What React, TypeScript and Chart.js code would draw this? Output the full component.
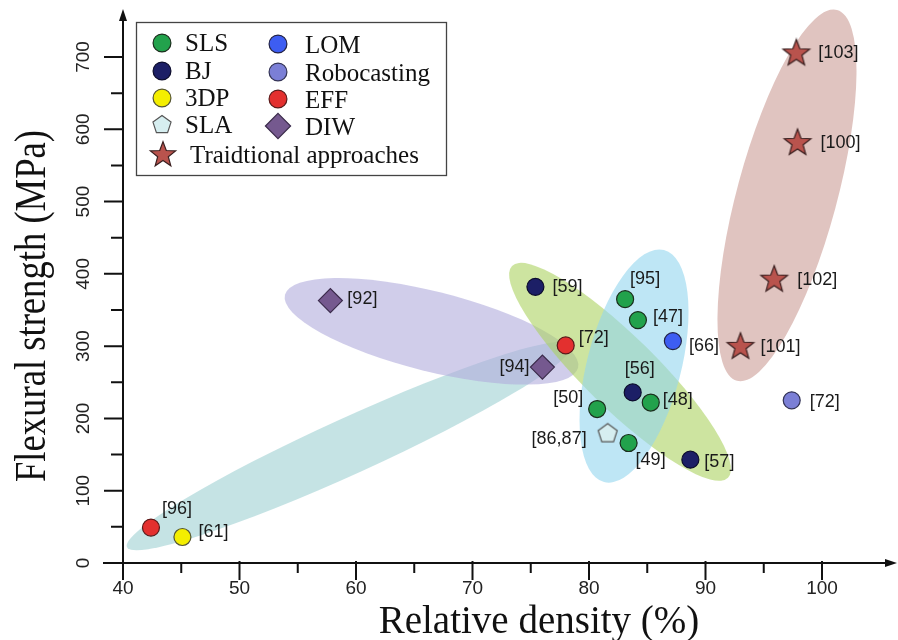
import React, { useEffect, useRef } from 'react';
import { Chart, registerables } from 'chart.js';
Chart.register(...registerables);

// ---------- data ----------
const SLS_X = [83.1, 84.2, 85.3, 80.7, 83.4];
const SLS_Y = [365, 336, 222, 213, 166];
const SLS_REF = ['[95]', '[47]', '[48]', '[50]', '[49]'];

const BJ_X = [75.4, 83.75, 88.7];
const BJ_Y = [382, 236, 143];
const BJ_REF = ['[59]', '[56]', '[57]'];

const P3DP_X = [45.1];
const P3DP_Y = [36];
const P3DP_REF = ['[61]'];

const SLA_X = [81.6];
const SLA_Y = [179];
const SLA_REF = ['[86,87]'];

const LOM_X = [87.2];
const LOM_Y = [307];
const LOM_REF = ['[66]'];

const ROBO_X = [97.4];
const ROBO_Y = [225];
const ROBO_REF = ['[72]'];

const EFF_X = [78.0, 42.4];
const EFF_Y = [301, 49];
const EFF_REF = ['[72]', '[96]'];

const DIW_X = [57.8, 76.0];
const DIW_Y = [363, 271];
const DIW_REF = ['[92]', '[94]'];

const TRAD_X = [97.8, 97.9, 95.9, 93.0];
const TRAD_Y = [705, 581, 392, 299];
const TRAD_REF = ['[103]', '[100]', '[102]', '[101]'];

const X_TICKS = [40, 50, 60, 70, 80, 90, 100];
const X_MINOR = [45, 55, 65, 75, 85, 95];
const Y_TICKS = [0, 100, 200, 300, 400, 500, 600, 700];
const Y_MINOR = [50, 150, 250, 350, 450, 550, 650];

const X_TITLE = 'Relative density (%)';
const Y_TITLE = 'Flexural strength (MPa)';

const LEGEND_LEFT = ['SLS', 'BJ', '3DP', 'SLA'];
const LEGEND_RIGHT = ['LOM', 'Robocasting', 'EFF', 'DIW'];
const LEGEND_BOTTOM = 'Traidtional approaches';

// cluster ellipses: major-axis end points in data units
const ELL_TEAL = [40.34, 22, 78.54, 302];
const ELL_PURPLE = [53.9, 371, 79.06, 270];
const ELL_GREEN = [73.39, 411, 91.93, 118];
const ELL_BLUE = [86.44, 433, 81.29, 112];
const ELL_PINK = [101.29, 765, 92.7, 252];

// ---------- styles ----------
type Kind = 'circle' | 'diamond' | 'star' | 'pentagon';
const STYLES: Record<string, { fill: string; stroke: string; kind: Kind; r: number }> = {
  SLS: { fill: '#22a24c', stroke: '#1b2e1d', kind: 'circle', r: 8.5 },
  BJ: { fill: '#1c1f66', stroke: '#0c0c2c', kind: 'circle', r: 8.5 },
  '3DP': { fill: '#f4ee00', stroke: '#555533', kind: 'circle', r: 8.5 },
  SLA: { fill: '#d6eef0', stroke: '#555', kind: 'pentagon', r: 10 },
  LOM: { fill: '#3d5df2', stroke: '#222244', kind: 'circle', r: 8.5 },
  Robocasting: { fill: '#7b7fd6', stroke: '#333355', kind: 'circle', r: 8.5 },
  EFF: { fill: '#e3302f', stroke: '#5a1a1a', kind: 'circle', r: 8.5 },
  DIW: { fill: '#75598f', stroke: '#3a2a4a', kind: 'diamond', r: 12 },
  'Traidtional approaches': { fill: '#b9534d', stroke: '#3a1f1f', kind: 'star', r: 14 },
};

const ELL_STYLES: [number[], string, number][] = [
  [ELL_TEAL, 'rgba(158,208,210,0.6)', 28],
  [ELL_PURPLE, 'rgba(177,172,220,0.6)', 40],
  [ELL_GREEN, 'rgba(172,210,97,0.6)', 36],
  [ELL_BLUE, 'rgba(147,213,238,0.6)', 47],
  [ELL_PINK, 'rgba(203,157,150,0.6)', 50],
];

// label placement: [dx, dy, align] relative to point
const LABEL_PLACE: Record<string, [number, number, CanvasTextAlign]> = {
  'SLS:0': [20, -20, 'center'],
  'SLS:1': [15, -3, 'left'],
  'SLS:2': [12, -2, 'left'],
  'SLS:3': [-14, -11, 'right'],
  'SLS:4': [7, 17, 'left'],
  'BJ:0': [17, 0, 'left'],
  'BJ:1': [7, -23, 'center'],
  'BJ:2': [14, 2, 'left'],
  '3DP:0': [16, -5, 'left'],
  'SLA:0': [-21, 5, 'right'],
  'LOM:0': [16, 5, 'left'],
  'Robocasting:0': [18, 2, 'left'],
  'EFF:0': [13, -7, 'left'],
  'EFF:1': [11, -19, 'left'],
  'DIW:0': [17, -2, 'left'],
  'DIW:1': [-13, 0, 'right'],
  'Traidtional approaches:0': [22, 0, 'left'],
  'Traidtional approaches:1': [23, 0, 'left'],
  'Traidtional approaches:2': [23, 0, 'left'],
  'Traidtional approaches:3': [20, 0, 'left'],
};

function shapePath(ctx: CanvasRenderingContext2D, kind: Kind, cx: number, cy: number, R: number) {
  ctx.beginPath();
  if (kind === 'circle') {
    ctx.arc(cx, cy, R, 0, Math.PI * 2);
  } else if (kind === 'diamond') {
    ctx.moveTo(cx, cy - R);
    ctx.lineTo(cx + R, cy);
    ctx.lineTo(cx, cy + R);
    ctx.lineTo(cx - R, cy);
    ctx.closePath();
  } else if (kind === 'star') {
    for (let i = 0; i < 10; i++) {
      const a = -Math.PI / 2 + (i * Math.PI) / 5;
      const rr = i % 2 === 0 ? R : R * 0.42;
      const px = cx + rr * Math.cos(a);
      const py = cy + rr * Math.sin(a);
      if (i === 0) ctx.moveTo(px, py);
      else ctx.lineTo(px, py);
    }
    ctx.closePath();
  } else {
    for (let i = 0; i < 5; i++) {
      const a = -Math.PI / 2 + (i * 2 * Math.PI) / 5;
      const px = cx + R * Math.cos(a);
      const py = cy + R * Math.sin(a);
      if (i === 0) ctx.moveTo(px, py);
      else ctx.lineTo(px, py);
    }
    ctx.closePath();
  }
}

function drawMarker(ctx: CanvasRenderingContext2D, name: string, cx: number, cy: number, scale = 1) {
  const s = STYLES[name];
  shapePath(ctx, s.kind, cx, cy, s.r * scale);
  ctx.fillStyle = s.fill;
  ctx.fill();
  ctx.lineWidth = 1.2;
  ctx.strokeStyle = s.stroke;
  ctx.stroke();
}

function markerImage(name: string): HTMLCanvasElement {
  const s = STYLES[name];
  const size = Math.ceil(2 * s.r + 4);
  const c = document.createElement('canvas');
  c.width = size;
  c.height = size;
  const ctx = c.getContext('2d')!;
  drawMarker(ctx, name, size / 2, size / 2);
  return c;
}

const SERIES: [string, number[], number[], string[]][] = [
  ['SLS', SLS_X, SLS_Y, SLS_REF],
  ['BJ', BJ_X, BJ_Y, BJ_REF],
  ['3DP', P3DP_X, P3DP_Y, P3DP_REF],
  ['SLA', SLA_X, SLA_Y, SLA_REF],
  ['LOM', LOM_X, LOM_Y, LOM_REF],
  ['Robocasting', ROBO_X, ROBO_Y, ROBO_REF],
  ['EFF', EFF_X, EFF_Y, EFF_REF],
  ['DIW', DIW_X, DIW_Y, DIW_REF],
  ['Traidtional approaches', TRAD_X, TRAD_Y, TRAD_REF],
];

export default function App() {
  const ref = useRef<HTMLCanvasElement | null>(null);

  useEffect(() => {
    document.body.style.margin = '0';
    const canvas = ref.current!;

    const datasets = SERIES.map(([name, xs, ys]) => {
      const s = STYLES[name];
      const base: any = {
        label: name,
        data: xs.map((x, i) => ({ x, y: ys[i] })),
        clip: false,
        borderWidth: 1.2,
        backgroundColor: s.fill,
        borderColor: s.stroke,
      };
      if (s.kind === 'circle') {
        base.pointStyle = 'circle';
        base.pointRadius = s.r;
      } else if (s.kind === 'diamond') {
        base.pointStyle = 'rectRot';
        base.pointRadius = s.r;
      } else {
        base.pointStyle = markerImage(name);
        base.pointRadius = s.r;
      }
      return base;
    });

    const ellipsePlugin = {
      id: 'ellipses',
      beforeDatasetsDraw(chart: any) {
        const ctx = chart.ctx as CanvasRenderingContext2D;
        const xs = chart.scales.x;
        const ys = chart.scales.y;
        ctx.save();
        for (const [e, color, b] of ELL_STYLES) {
          const x1 = xs.getPixelForValue(e[0]);
          const y1 = ys.getPixelForValue(e[1]);
          const x2 = xs.getPixelForValue(e[2]);
          const y2 = ys.getPixelForValue(e[3]);
          const cx = (x1 + x2) / 2;
          const cy = (y1 + y2) / 2;
          const a = Math.hypot(x2 - x1, y2 - y1) / 2;
          const ang = Math.atan2(y2 - y1, x2 - x1);
          ctx.beginPath();
          ctx.ellipse(cx, cy, a, b, ang, 0, Math.PI * 2);
          ctx.fillStyle = color;
          ctx.fill();
        }
        ctx.restore();

        // axes
        const ox = xs.getPixelForValue(40);
        const oy = ys.getPixelForValue(0);
        ctx.save();
        ctx.strokeStyle = '#111';
        ctx.fillStyle = '#111';
        ctx.lineWidth = 2;
        ctx.beginPath();
        ctx.moveTo(ox, oy + 13);
        ctx.lineTo(ox, 16);
        ctx.moveTo(ox - 20, oy);
        ctx.lineTo(891, oy);
        ctx.stroke();
        // arrow heads
        ctx.beginPath();
        ctx.moveTo(ox, 9);
        ctx.lineTo(ox - 4, 21);
        ctx.lineTo(ox + 4, 21);
        ctx.closePath();
        ctx.fill();
        ctx.beginPath();
        ctx.moveTo(897, oy);
        ctx.lineTo(885, oy - 4);
        ctx.lineTo(885, oy + 4);
        ctx.closePath();
        ctx.fill();
        // ticks
        ctx.lineWidth = 2;
        ctx.beginPath();
        for (const v of Y_TICKS) {
          const py = ys.getPixelForValue(v);
          if (v !== 0) {
            ctx.moveTo(ox - 19, py);
            ctx.lineTo(ox, py);
          }
        }
        for (const v of Y_MINOR) {
          const py = ys.getPixelForValue(v);
          ctx.moveTo(ox - 12, py);
          ctx.lineTo(ox, py);
        }
        for (const v of X_TICKS) {
          const px = xs.getPixelForValue(v);
          ctx.moveTo(px, oy - 2);
          ctx.lineTo(px, oy + 17);
        }
        for (const v of X_MINOR) {
          const px = xs.getPixelForValue(v);
          ctx.moveTo(px, oy);
          ctx.lineTo(px, oy + 10);
        }
        ctx.stroke();
        // tick labels
        ctx.font = '19px "Liberation Sans", Arial, sans-serif';
        ctx.fillStyle = '#222';
        ctx.textAlign = 'center';
        ctx.textBaseline = 'middle';
        for (const v of X_TICKS) {
          ctx.fillText(String(v), xs.getPixelForValue(v), oy + 26);
        }
        for (const v of Y_TICKS) {
          const py = ys.getPixelForValue(v);
          ctx.save();
          ctx.translate(ox - 34, py);
          ctx.rotate(-Math.PI / 2);
          ctx.textBaseline = 'alphabetic';
          ctx.fillText(String(v), 0, 0);
          ctx.restore();
        }
        // titles
        ctx.fillStyle = '#111';
        ctx.font = '39px "Liberation Serif", "Times New Roman", serif';
        ctx.textAlign = 'center';
        ctx.textBaseline = 'alphabetic';
        ctx.fillText(X_TITLE, 539, 633, 328);
        ctx.save();
        ctx.translate(45, 306);
        ctx.rotate(-Math.PI / 2);
        ctx.font = '44px "Liberation Serif", "Times New Roman", serif';
        ctx.fillText(Y_TITLE, 0, 0, 352);
        ctx.restore();
        ctx.restore();
      },
      afterDatasetsDraw(chart: any) {
        const ctx = chart.ctx as CanvasRenderingContext2D;
        const xs = chart.scales.x;
        const ys = chart.scales.y;
        ctx.save();
        ctx.font = '18px "Liberation Sans", Arial, sans-serif';
        ctx.fillStyle = '#1a1a1a';
        ctx.textBaseline = 'middle';
        SERIES.forEach(([name, xArr, yArr, refs]) => {
          refs.forEach((t, i) => {
            const p = LABEL_PLACE[name + ':' + i] || [14, 0, 'left'];
            const px = xs.getPixelForValue(xArr[i]);
            const py = ys.getPixelForValue(yArr[i]);
            ctx.textAlign = p[2];
            ctx.fillText(t, px + p[0], py + p[1]);
          });
        });
        ctx.restore();

        // legend
        ctx.save();
        ctx.fillStyle = '#fff';
        ctx.fillRect(136.5, 22.5, 310, 153);
        ctx.strokeStyle = '#444';
        ctx.lineWidth = 1.3;
        ctx.strokeRect(136.5, 22.5, 310, 153);
        ctx.font = '25px "Liberation Serif", "Times New Roman", serif';
        ctx.fillStyle = '#111';
        ctx.textBaseline = 'middle';
        ctx.textAlign = 'left';
        const rows = [43, 71, 98, 125];
        LEGEND_LEFT.forEach((n, i) => {
          drawMarker(ctx, n, 162, rows[i], n === 'SLA' ? 0.95 : 1.05);
          ctx.fillStyle = '#111';
          ctx.fillText(n, 185, rows[i] + 1);
        });
        LEGEND_RIGHT.forEach((n, i) => {
          drawMarker(ctx, n, 278, rows[i] + 1, 1.05);
          ctx.fillStyle = '#111';
          ctx.fillText(n, 305, rows[i] + 3);
        });
        drawMarker(ctx, LEGEND_BOTTOM, 163, 155, 0.95);
        ctx.fillStyle = '#111';
        ctx.fillText(LEGEND_BOTTOM, 190, 156);
        ctx.restore();
      },
    };

    const chart = new Chart(canvas, {
      type: 'scatter',
      data: { datasets },
      options: {
        responsive: false,
        animation: false,
        events: [],
        layout: { padding: { left: 123, right: 76, top: 57, bottom: 77 } },
        scales: {
          x: { type: 'linear', min: 40, max: 100, display: false },
          y: { type: 'linear', min: 0, max: 700, display: false },
        },
        plugins: { legend: { display: false }, tooltip: { enabled: false } },
      },
      plugins: [ellipsePlugin],
    } as any);

    return () => chart.destroy();
  }, []);

  return <canvas ref={ref} width={898} height={640} style={{ display: 'block' }} />;
}
